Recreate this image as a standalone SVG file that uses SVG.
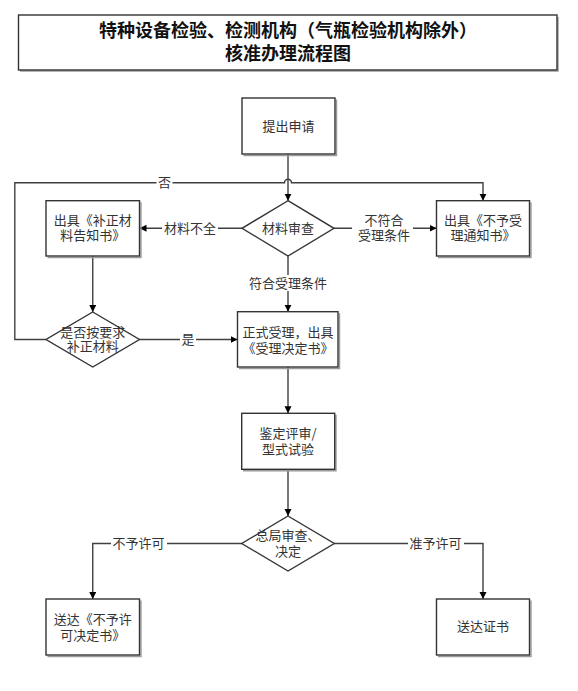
<svg xmlns="http://www.w3.org/2000/svg" width="578" height="691" viewBox="0 0 578 691">
<defs>
<style>
.bx{fill:#fff;stroke:#333;stroke-width:1.4}
.sh{fill:none;stroke:#9a9a9a;stroke-width:1.4}
.t{font-family:"Noto Sans CJK SC","Liberation Sans",sans-serif;font-size:13px;fill:#333;text-anchor:middle}
.tt{font-family:"Noto Sans CJK SC","Liberation Sans",sans-serif;font-size:18px;font-weight:bold;fill:#111;text-anchor:middle}
.ln{fill:none;stroke:#404040;stroke-width:1.4}
.mk{fill:#fff}
</style>
<marker id="ar" markerUnits="userSpaceOnUse" markerWidth="8" markerHeight="8" refX="7" refY="3.5" orient="auto">
<path d="M0,0 L7,3.5 L0,7 z" fill="#000"/>
</marker>
</defs>
<rect width="578" height="691" fill="#fff"/>

<g id="title">
<path class="sh" d="M20,71 L558,71 L558,17"/>
<rect class="bx" x="18.5" y="15" width="538.5" height="55"/>
<text class="tt" x="288" y="37">特种设备检验、检测机构（气瓶检验机构除外）<tspan x="288" y="60">核准办理流程图</tspan></text>
</g>

<g id="connectors">
<path class="ln" marker-end="url(#ar)" d="M288,154 L288,200.7"/>
<path class="ln" marker-end="url(#ar)" d="M242,228.3 L139.5,228.3"/>
<path class="ln" marker-end="url(#ar)" d="M334,228.3 L436.5,228.3"/>
<path class="ln" marker-end="url(#ar)" d="M288,256 L288,311.7"/>
<path class="ln" marker-end="url(#ar)" d="M92.75,256 L92.75,312"/>
<path class="ln" marker-end="url(#ar)" d="M139.5,339.5 L237.5,339.5"/>
<path class="ln" marker-end="url(#ar)" d="M46,339.5 L14.8,339.5 L14.8,182.7 L284.5,182.7 A3.5,3.5 0 0 1 291.5,182.7 L483,182.7 L483,200.7"/>
<path class="ln" marker-end="url(#ar)" d="M288,367 L288,413.3"/>
<path class="ln" marker-end="url(#ar)" d="M288,469.3 L288,516"/>
<path class="ln" marker-end="url(#ar)" d="M241.7,543.5 L92.75,543.5 L92.75,599"/>
<path class="ln" marker-end="url(#ar)" d="M334.3,543.5 L483,543.5 L483,599"/>
<rect class="mk" x="162" y="221" width="56" height="15"/>
<text class="t" x="190" y="233">材料不全</text>
<rect class="mk" x="352" y="213" width="61" height="30"/>
<text class="t" x="384" y="224.7">不符合<tspan x="384" y="239.7">受理条件</tspan></text>
<rect class="mk" x="248" y="275" width="80" height="16"/>
<text class="t" x="288" y="288">符合受理条件</text>
<rect class="mk" x="180" y="332" width="16" height="15"/>
<text class="t" x="188" y="344.2">是</text>
<rect class="mk" x="156.5" y="175" width="16" height="15"/>
<text class="t" x="164.5" y="187.4">否</text>
<rect class="mk" x="111" y="536" width="56" height="15"/>
<text class="t" x="138.5" y="548.2">不予许可</text>
<rect class="mk" x="408" y="536" width="56" height="15"/>
<text class="t" x="435.5" y="548.2">准予许可</text>
</g>

<g id="n-apply">
<path class="sh" d="M243.5,155.5 L336.5,155.5 L336.5,99.5"/>
<rect class="bx" x="242" y="98" width="93" height="56"/>
<text class="t" x="288.5" y="130.7">提出申请</text>
</g>

<g id="n-review">
<polygon class="bx" points="288,200.7 334,228.3 288,256 242,228.3"/>
<text class="t" x="288" y="233">材料审查</text>
</g>

<g id="n-supplement-notice">
<path class="sh" d="M47.5,257.5 L141,257.5 L141,202.2"/>
<rect class="bx" x="46" y="200.7" width="93.5" height="55.3"/>
<text class="t" x="92.75" y="224.7">出具《补正材<tspan x="92.75" y="239.7">料告知书》</tspan></text>
</g>

<g id="n-reject-notice">
<path class="sh" d="M438,257.5 L531,257.5 L531,202.2"/>
<rect class="bx" x="436.5" y="200.7" width="93" height="55.3"/>
<text class="t" x="483" y="224.7">出具《不予受<tspan x="483" y="239.7">理通知书》</tspan></text>
</g>

<g id="n-supplemented">
<polygon class="bx" points="92.75,312 139.5,339.5 92.75,367 46,339.5"/>
<text class="t" x="92.75" y="337.4">是否按要求<tspan x="92.75" y="351.4">补正材料</tspan></text>
</g>

<g id="n-accept">
<path class="sh" d="M239,368.5 L339.5,368.5 L339.5,313.2"/>
<rect class="bx" x="237.5" y="311.7" width="100.5" height="55.3"/>
<text class="t" x="288" y="337">正式受理，出具<tspan x="288" y="353">《受理决定书》</tspan></text>
</g>

<g id="n-evaluate">
<path class="sh" d="M243,470.8 L336,470.8 L336,414.8"/>
<rect class="bx" x="241.7" y="413.3" width="93" height="56"/>
<text class="t" x="288" y="438">鉴定评审/<tspan x="288" y="454">型式试验</tspan></text>
</g>

<g id="n-decision">
<polygon class="bx" points="288,516 334.3,543.5 288,571 241.7,543.5"/>
<text class="t" x="288" y="539.7">总局审查、<tspan x="288" y="555.7">决定</tspan></text>
</g>

<g id="n-deny">
<path class="sh" d="M47.5,656.5 L141,656.5 L141,600.5"/>
<rect class="bx" x="46" y="599" width="93.5" height="56"/>
<text class="t" x="92.75" y="624">送达《不予许<tspan x="92.75" y="639.7">可决定书》</tspan></text>
</g>

<g id="n-grant">
<path class="sh" d="M438,656.5 L531,656.5 L531,600.5"/>
<rect class="bx" x="436.5" y="599" width="93" height="56"/>
<text class="t" x="483" y="630.7">送达证书</text>
</g>
</svg>
